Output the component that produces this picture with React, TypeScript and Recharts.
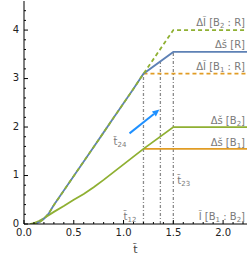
import React from 'react';
import { LineChart, Line, XAxis, YAxis, ReferenceLine, ReferenceDot } from 'recharts';

// ---- data ----
const upperT = [0.09, 0.12, 0.16, 0.2, 0.25, 0.3, 0.4, 0.5, 0.6, 0.7, 0.8, 0.9, 1.0, 1.1, 1.2];
const upperV = [0, 0.01, 0.045, 0.105, 0.22, 0.39, 0.69, 0.99, 1.29, 1.59, 1.89, 2.19, 2.49, 2.79, 3.1];
const lowerT = [0.06, 0.1, 0.15, 0.2, 0.3, 0.4, 0.5, 0.6, 0.7, 0.8, 0.9, 1.0, 1.1, 1.2];
const lowerV = [0, 0.02, 0.06, 0.12, 0.25, 0.37, 0.5, 0.62, 0.76, 0.91, 1.07, 1.23, 1.39, 1.55];
const tEnd = 2.24;
const tKinks = [1.2, 1.5];
const sR = 3.55;       // Δš[R] plateau
const iB2R = 4.0;      // ΔĨ[B2:R] plateau
const iB1R = 3.1;      // ΔĨ[B1:R]
const sB2 = 2.0;       // Δš[B2]
const sB1 = 1.55;      // Δš[B1]
const vLines = [
  { t: 1.2, top: 3.1 },
  { t: 1.37, top: 3.355 },
  { t: 1.5, top: 3.55 },
];
const arrowFrom = { t: 1.06, v: 1.87 };
const arrowTo = { t: 1.36, v: 2.36 };
const xTicks = [0, 0.1, 0.2, 0.3, 0.4, 0.5, 0.6, 0.7, 0.8, 0.9, 1.0, 1.1, 1.2, 1.3, 1.4, 1.5, 1.6, 1.7, 1.8, 1.9, 2.0, 2.1, 2.2];
const yTicks = [0, 0.2, 0.4, 0.6, 0.8, 1, 1.2, 1.4, 1.6, 1.8, 2, 2.2, 2.4, 2.6, 2.8, 3, 3.2, 3.4, 3.6, 3.8, 4, 4.2, 4.4];
const xMajor = [0, 0.5, 1.0, 1.5, 2.0];
const yMajor = [0, 1, 2, 3, 4];

type Pt = { t: number; v: number };
const pts = (ts: number[], vs: number[]): Pt[] => ts.map((t, i) => ({ t, v: vs[i] }));
const upper = pts(upperT, upperV);
const lower = pts(lowerT, lowerV);
const seriesPts: Record<string, Pt[]> = {
  blue: [...upper, { t: tKinks[1], v: sR }, { t: tEnd, v: sR }],
  greenDash: [...upper, { t: tKinks[1], v: iB2R }, { t: tEnd, v: iB2R }],
  orangeDash: [{ t: tKinks[0], v: iB1R }, { t: tEnd, v: iB1R }],
  lower: [...lower, { t: tKinks[1], v: sB2 }, { t: tEnd, v: sB2 }],
  orange: [{ t: tKinks[0], v: sB1 }, { t: tEnd, v: sB1 }],
};
const allT = Array.from(new Set(Object.values(seriesPts).flat().map((p) => p.t))).sort((a, b) => a - b);
const table = allT.map((t) => {
  const row: any = { t };
  for (const k of Object.keys(seriesPts)) {
    const f = seriesPts[k].find((p) => p.t === t);
    if (f) row[k] = f.v;
  }
  return row;
});

type Part = { s: string; sub?: boolean };
const labels: { t: number; v: number; anchor: 'start' | 'end'; parts: Part[] }[] = [
  { t: 2.22, v: 4.08, anchor: 'end', parts: [{ s: 'ΔĨ [B' }, { s: '2', sub: true }, { s: ' : R]' }] },
  { t: 2.22, v: 3.64, anchor: 'end', parts: [{ s: 'Δš [R]' }] },
  { t: 2.22, v: 3.17, anchor: 'end', parts: [{ s: 'ΔĨ [B' }, { s: '1', sub: true }, { s: ' : R]' }] },
  { t: 2.22, v: 2.07, anchor: 'end', parts: [{ s: 'Δš [B' }, { s: '2', sub: true }, { s: ']' }] },
  { t: 2.22, v: 1.6, anchor: 'end', parts: [{ s: 'Δš [B' }, { s: '1', sub: true }, { s: ']' }] },
  { t: 2.22, v: 0.09, anchor: 'end', parts: [{ s: 'Ĩ [B' }, { s: '1', sub: true }, { s: ' : B' }, { s: '2', sub: true }, { s: ']' }] },
  { t: 0.9, v: 1.62, anchor: 'start', parts: [{ s: 't̃' }, { s: '24', sub: true }] },
  { t: 1.54, v: 0.83, anchor: 'start', parts: [{ s: 't̃' }, { s: '23', sub: true }] },
  { t: 1.0, v: 0.09, anchor: 'start', parts: [{ s: 't̃' }, { s: '12', sub: true }] },
];

const BLUE = '#5e81b5';
const ORANGE = '#e19c24';
const GREEN = '#8fb032';
const GRAY = '#7a7a7a';
const FONT = 'DejaVu Sans';

const near = (a: number, list: number[]) => list.some((m) => Math.abs(m - a) < 1e-6);

const BottomTick = (props: any) => {
  const { x, y, payload } = props;
  const major = near(payload.value, xMajor);
  return (
    <g>
      <line x1={x} y1={y} x2={x} y2={y - (major ? 4 : 2)} stroke="#000" strokeWidth={1} />
      {major && (
        <text x={x} y={y + 12} textAnchor="middle" fontSize={10} fontFamily={FONT} fill="#222">
          {payload.value.toFixed(1)}
        </text>
      )}
    </g>
  );
};
const TopTick = (props: any) => {
  const { x, y, payload } = props;
  const major = near(payload.value, xMajor);
  return <line x1={x} y1={y} x2={x} y2={y + (major ? 4 : 2)} stroke="#000" strokeWidth={1} />;
};
const LeftTick = (props: any) => {
  const { x, y, payload } = props;
  const major = near(payload.value, yMajor);
  return (
    <g>
      <line x1={x} y1={y} x2={x + (major ? 4 : 2)} y2={y} stroke="#000" strokeWidth={1} />
      {major && (
        <text x={x - 5} y={y + 2.5} textAnchor="end" fontSize={10} fontFamily={FONT} fill="#222">
          {String(payload.value)}
        </text>
      )}
    </g>
  );
};
const RightTick = (props: any) => {
  const { x, y, payload } = props;
  const major = near(payload.value, yMajor);
  return <line x1={x} y1={y} x2={x - (major ? 4 : 2)} y2={y} stroke="#000" strokeWidth={1} />;
};

const Arrow = (props: any) => {
  const { x1, y1, x2, y2 } = props;
  const ang = Math.atan2(y2 - y1, x2 - x1);
  const L = 7, W = 3.2;
  const bx = x2 - L * Math.cos(ang), by = y2 - L * Math.sin(ang);
  const px = -Math.sin(ang) * W, py = Math.cos(ang) * W;
  return (
    <g>
      <line x1={x1} y1={y1} x2={bx} y2={by} stroke="#1e90ff" strokeWidth={2} />
      <polygon points={`${x2},${y2} ${bx + px},${by + py} ${bx - px},${by - py}`} fill="#1e90ff" />
    </g>
  );
};

const makeLabel = (parts: Part[], anchor: 'start' | 'end') => (p: any) => {
  const vb = p.viewBox || {};
  const x = vb.x + (vb.width || 0) / 2;
  const y = vb.y + (vb.height || 0) / 2;
  return (
    <text x={x} y={y} textAnchor={anchor} fontSize={10} fontFamily={FONT} fill={GRAY}>
      {parts.map((pt, i) =>
        pt.sub ? (
          <tspan key={i} fontSize={7} dy={2}>{pt.s}</tspan>
        ) : (
          <tspan key={i} dy={i > 0 && parts[i - 1].sub ? -2 : 0}>{pt.s}</tspan>
        )
      )}
    </text>
  );
};

const lineCommon = { xAxisId: 'b', yAxisId: 'l', type: 'linear' as const, strokeWidth: 1.8, dot: false, activeDot: false, connectNulls: true, isAnimationActive: false };

export default function App() {
  return (
    <div style={{ position: 'absolute', left: 0, top: 0, width: 249, height: 257 }}>
      <LineChart width={249} height={257} data={table} margin={{ top: 1, right: 2, bottom: 0, left: 0 }}>
        <XAxis
          xAxisId="b"
          dataKey="t"
          type="number"
          domain={[0, tEnd]}
          ticks={xTicks}
          tick={<BottomTick />}
          tickLine={false}
          tickSize={0}
          tickMargin={0}
          height={33}
          allowDataOverflow
          stroke="#000"
          interval={0}
          label={{ value: 't̃', position: 'insideBottom', offset: 4, fontSize: 11, fontFamily: FONT, fill: '#444' }}
        />
        <XAxis
          xAxisId="top"
          orientation="top"
          dataKey="t"
          type="number"
          domain={[0, tEnd]}
          ticks={xTicks}
          tick={<TopTick />}
          tickLine={false}
          tickSize={0}
          tickMargin={0}
          height={0}
          allowDataOverflow
          stroke="#000"
          interval={0}
        />
        <YAxis
          yAxisId="l"
          type="number"
          domain={[0, 4.6]}
          ticks={yTicks}
          tick={<LeftTick />}
          tickLine={false}
          tickSize={0}
          tickMargin={0}
          width={24}
          allowDataOverflow
          stroke="#000"
          interval={0}
        />
        <YAxis
          yAxisId="r"
          orientation="right"
          type="number"
          domain={[0, 4.6]}
          ticks={yTicks}
          tick={<RightTick />}
          tickLine={false}
          tickSize={0}
          tickMargin={0}
          width={0}
          allowDataOverflow
          stroke="#000"
          interval={0}
        />
        {vLines.map((vl, i) => (
          <ReferenceLine
            key={i}
            xAxisId="b"
            yAxisId="l"
            segment={[{ x: vl.t, y: 0 }, { x: vl.t, y: vl.top }]}
            stroke="#8a8a8a"
            strokeWidth={1.3}
            strokeDasharray="3 2 1 2"
          />
        ))}
        <Line {...lineCommon} dataKey="orange" stroke={ORANGE} />
        <Line {...lineCommon} dataKey="lower" stroke={GREEN} />
        <Line {...lineCommon} dataKey="orangeDash" stroke={ORANGE} strokeDasharray="4 3" />
        <Line {...lineCommon} dataKey="blue" stroke={BLUE} />
        <Line {...lineCommon} dataKey="greenDash" stroke={GREEN} strokeDasharray="4 3" />
        <ReferenceLine
          xAxisId="b"
          yAxisId="l"
          segment={[{ x: arrowFrom.t, y: arrowFrom.v }, { x: arrowTo.t, y: arrowTo.v }]}
          shape={<Arrow />}
        />
        {labels.map((lb, i) => (
          <ReferenceDot
            key={'lb' + i}
            xAxisId="b"
            yAxisId="l"
            x={lb.t}
            y={lb.v}
            r={0}
            fill="none"
            stroke="none"
            label={makeLabel(lb.parts, lb.anchor)}
          />
        ))}
      </LineChart>
    </div>
  );
}
